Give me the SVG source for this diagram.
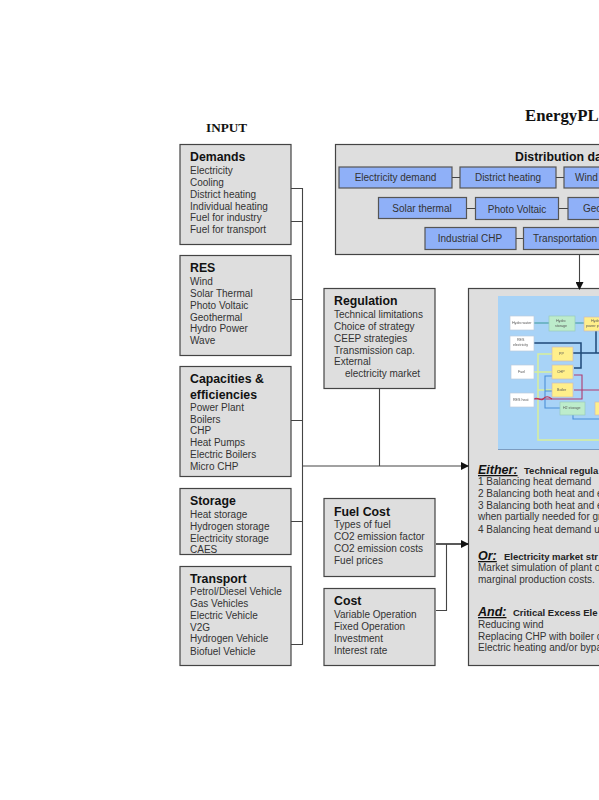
<svg xmlns="http://www.w3.org/2000/svg" width="599" height="800" viewBox="0 0 599 800">
<style>
text{font-family:"Liberation Sans",Arial,sans-serif;font-size:10px;fill:#333}
.t{font-size:12.3px;font-weight:bold;fill:#111}
.h{font-family:"Liberation Serif",serif;font-weight:bold;fill:#111}
.b{fill:#dedede;stroke:#444;stroke-width:1.2}
.d{fill:#8fb0f8;stroke:#555;stroke-width:1.2}
.c{text-anchor:middle}
.l{fill:none;stroke:#444;stroke-width:1.1}
.e{font-size:12.5px;font-weight:bold;font-style:italic;text-decoration:underline;fill:#111}
.s{font-size:9.5px;font-weight:bold;fill:#222}
.n{fill:#fff;stroke:#bcd;stroke-width:.7}
.y{fill:#ffef8a;stroke:#cbb;stroke-width:.7}
.g{fill:#bdeccb;stroke:#9cb;stroke-width:.7}
.m{font-size:3.6px;fill:#555}
.w{fill:none}
</style>
<defs>
<marker id="a" markerWidth="8" markerHeight="8" refX="7" refY="4" orient="auto" markerUnits="userSpaceOnUse"><path d="M0,0L8,4L0,8Z" fill="#111"/></marker>
<filter id="blur" x="-5%" y="-5%" width="110%" height="110%"><feGaussianBlur stdDeviation="0.45"/></filter>
</defs>
<rect width="599" height="800" fill="#fff"/>
<text class="h" x="206" y="132" style="font-size:13.2px">INPUT</text>
<text class="h" x="525" y="121" style="font-size:16.8px">EnergyPL</text>

<g id="demands"><rect class="b" x="180" y="144.500" width="111" height="100"/>
<text class="t" x="190" y="161">Demands</text><text x="190" y="174">Electricity</text><text x="190" y="186">Cooling</text><text x="190" y="198">District heating</text><text x="190" y="210">Individual heating</text><text x="190" y="221">Fuel for industry</text><text x="190" y="233">Fuel for transport</text></g>

<g id="res"><rect class="b" x="180" y="255.500" width="111" height="100"/>
<text class="t" x="190" y="272">RES</text><text x="190" y="285">Wind</text><text x="190" y="297">Solar Thermal</text><text x="190" y="309">Photo Voltaic</text><text x="190" y="321">Geothermal</text><text x="190" y="332">Hydro Power</text><text x="190" y="344">Wave</text></g>

<g id="capacities"><rect class="b" x="180" y="366.500" width="111" height="110"/>
<text class="t" x="190" y="383">Capacities &amp;</text><text class="t" x="190" y="399">efficiencies</text><text x="190" y="411">Power Plant</text><text x="190" y="423">Boilers</text><text x="190" y="434">CHP</text><text x="190" y="446">Heat Pumps</text><text x="190" y="458">Electric Boilers</text><text x="190" y="470">Micro CHP</text></g>

<g id="storage"><rect class="b" x="180" y="488.500" width="111" height="66"/>
<text class="t" x="190" y="505">Storage</text><text x="190" y="518">Heat storage</text><text x="190" y="530">Hydrogen storage</text><text x="190" y="542">Electricity storage</text><text x="190" y="553">CAES</text></g>

<g id="transport"><rect class="b" x="180" y="566.500" width="111" height="99"/>
<text class="t" x="190" y="583">Transport</text><text x="190" y="595">Petrol/Diesel Vehicle</text><text x="190" y="607">Gas Vehicles</text><text x="190" y="619">Electric Vehicle</text><text x="190" y="631">V2G</text><text x="190" y="642">Hydrogen Vehicle</text><text x="190" y="655">Biofuel Vehicle</text></g>

<g id="regulation"><rect class="b" x="324" y="288.500" width="111" height="100"/>
<text class="t" x="334" y="305">Regulation</text><text x="334" y="318">Technical limitations</text><text x="334" y="330">Choice of strategy</text><text x="334" y="342">CEEP strategies</text><text x="334" y="354">Transmission cap.</text><text x="334" y="365">External</text><text x="345" y="377">electricity market</text></g>

<g id="fuel-cost"><rect class="b" x="324" y="498.500" width="111" height="78"/>
<text class="t" x="334" y="516">Fuel Cost</text><text x="334" y="528">Types of fuel</text><text x="334" y="540">CO2 emission factor</text><text x="334" y="552">CO2 emission costs</text><text x="334" y="564">Fuel prices</text></g>

<g id="cost"><rect class="b" x="324" y="588.500" width="111" height="77"/>
<text class="t" x="334" y="605">Cost</text><text x="334" y="618">Variable Operation</text><text x="334" y="630">Fixed Operation</text><text x="334" y="642">Investment</text><text x="334" y="654">Interest rate</text></g>

<g id="distribution"><rect class="b" x="335.500" y="144.500" width="290" height="110"/>
<text x="515" y="161" style="font-size:12.3px;font-weight:bold;fill:#111">Distribution da</text></g>
<g id="electricity-demand"><rect class="d" x="339" y="167" width="113" height="21"/><text class="c" x="395.500" y="181">Electricity demand</text></g>
<g id="district-heating"><rect class="d" x="460" y="167" width="96" height="21"/><text class="c" x="508" y="181">District heating</text></g>
<g id="wind"><rect class="d" x="564" y="167" width="60" height="21"/><text x="575" y="181">Wind</text></g>
<g id="solar-thermal"><rect class="d" x="378.500" y="197.500" width="88" height="21"/><text class="c" x="422" y="212">Solar thermal</text></g>
<g id="photo-voltaic"><rect class="d" x="475.500" y="197.500" width="83" height="22"/><text class="c" x="517" y="213">Photo Voltaic</text></g>
<g id="geothermal"><rect class="d" x="568" y="197.500" width="60" height="22"/><text x="583" y="212">Geo</text></g>
<g id="industrial-chp"><rect class="d" x="425" y="227.500" width="91" height="22"/><text class="c" x="470" y="242">Industrial CHP</text></g>
<g id="transportation"><rect class="d" x="523.500" y="227.500" width="90" height="22"/><text x="533" y="242">Transportation</text></g>

<g id="energyplan"><rect class="b" x="468.500" y="288.500" width="170" height="377"/>
<g id="thumbnail" filter="url(#blur)">
<rect x="498" y="296" width="120" height="154" fill="#a8d3f7"/>
<path d="M498,449.500H618" stroke="#7c9cc0" stroke-width="1"/>
<path class="w" stroke="#3a9a9a" stroke-width="1.100" d="M534,323H549M575,323H584"/>
<path class="w" stroke="#1f4a78" stroke-width="1.500" d="M534,343H581V362M562,353H599M574,368H581V353M596,353V330"/>
<path class="w" stroke="#d8ef9a" stroke-width="1.500" d="M552,354H538V440H599M534,372H552M538,390H552"/>
<path class="w" stroke="#b03a70" stroke-width="1.100" d="M534,399H582V375H574M574,390H599"/>
<path class="w" stroke="#4a90d8" stroke-width="1.100" d="M552,376H545V408H560M545,391H552M573,415V419H599"/>
<path class="w" stroke="#c03050" stroke-width="1.100" d="M534,399C538,396 540,402 543,399S548,396 552,399"/>
<rect class="n" x="510" y="316" width="24" height="14"/><text class="m" x="512" y="324">Hydro water</text>
<rect class="g" x="549" y="316" width="26" height="15"/><text class="m" x="556" y="322">Hydro</text><text class="m" x="555" y="327">storage</text>
<rect class="y" x="584" y="317" width="24" height="14"/><text class="m" x="591" y="322">Hydro</text><text class="m" x="586" y="327">power plant</text>
<rect class="n" x="510" y="336" width="24" height="15"/><text class="m" x="517" y="341">RES</text><text class="m" x="513" y="346">electricity</text>
<rect class="y" x="552" y="347" width="21" height="14"/><text class="m" x="559" y="355">PP</text>
<rect class="n" x="511" y="365" width="23" height="14"/><text class="m" x="518" y="373">Fuel</text>
<rect class="y" x="552" y="365" width="21" height="14"/><text class="m" x="557" y="373">CHP</text>
<rect class="y" x="552" y="383" width="21" height="14"/><text class="m" x="557" y="391">Boiler</text>
<rect class="n" x="510" y="393" width="24" height="14"/><text class="m" x="513" y="401">RES heat</text>
<rect class="g" x="560" y="402" width="25" height="13"/><text class="m" x="563" y="409">H2 storage</text>
<rect class="y" x="595" y="402" width="15" height="13"/>
</g>
<text class="e" x="478" y="474">Either:</text><text class="s" x="524" y="474">Technical regula</text>
<text x="478" y="485">1 Balancing heat demand</text>
<text x="478" y="497">2 Balancing both heat and e</text>
<text x="478" y="509">3 Balancing both heat and e</text>
<text x="478" y="520">when partially needed for gr</text>
<text x="478" y="533">4 Balancing heat demand u</text>
<text class="e" x="478" y="560">Or:</text><text class="s" x="504" y="560">Electricity market str</text>
<text x="478" y="571">Market simulation of plant o</text>
<text x="478" y="583">marginal production costs.</text>
<text class="e" x="478" y="616">And:</text><text class="s" x="513" y="616">Critical Excess Ele</text>
<text x="478" y="628">Reducing wind</text>
<text x="478" y="640">Replacing CHP with boiler c</text>
<text x="478" y="651">Electric heating and/or bypa</text>
</g>

<g id="connectors">
<path class="l" d="M291,188.500H302.500V644.500H291M291,221.500H302.500M291,299.500H302.500M291,420.500H302.500M291,521.500H302.500M379.500,389V466"/>
<path class="l" d="M302.500,466H468" marker-end="url(#a)"/>
<path d="M436,544H468" fill="none" stroke="#222" stroke-width="1.500" marker-end="url(#a)"/>
<path class="l" d="M436,610.500H446.500V544"/>
<path class="l" d="M579.500,255V289" marker-end="url(#a)"/>
<path class="l" d="M452,177.500H460M556,177.500H564M467,208.500H475M559,208.500H568M516,238.500H523"/>
</g>
</svg>
